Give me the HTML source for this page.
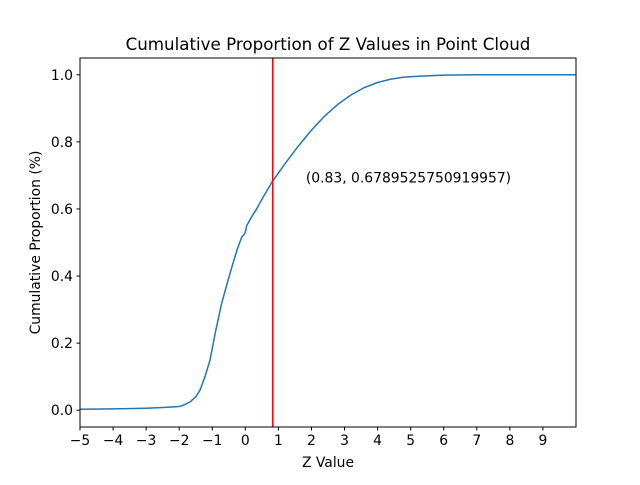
<!DOCTYPE html>
<html><head><meta charset="utf-8"><style>
body{margin:0;background:#fff;}
svg text{font-family:"DejaVu Sans","Liberation Sans",sans-serif;fill:#000;}
</style></head><body>
<svg id="chart" width="640" height="480" viewBox="0 0 640 480" xmlns="http://www.w3.org/2000/svg">
<rect width="640" height="480" fill="#fff"/>
<text x="328" y="50" font-size="16.7" text-anchor="middle">Cumulative Proportion of Z Values in Point Cloud</text>
<g id="plot"></g>
<rect x="80" y="58" width="496" height="369" fill="none" stroke="#000" stroke-width="1"/>
<text x="328" y="467" font-size="13.9" text-anchor="middle">Z Value</text>
<text transform="translate(40,242.5) rotate(-90)" font-size="13.9" text-anchor="middle">Cumulative Proportion (%)</text>
</svg>
<script>
const xs=[-5,-4,-3,-2.5,-2,-1.85,-1.67,-1.5,-1.37,-1.22,-1.07,-0.9,-0.72,-0.55,-0.41,-0.25,-0.11,-0.02,0.01,0.04,0.2,0.34,0.55,0.8,1.2,1.6,2,2.4,2.8,3.2,3.6,4,4.4,4.8,5.3,6,7,10];
const ys=[0.003,0.004,0.006,0.008,0.011,0.016,0.025,0.04,0.06,0.1,0.149,0.235,0.317,0.378,0.426,0.478,0.516,0.526,0.535,0.55,0.578,0.60,0.637,0.679,0.735,0.787,0.835,0.877,0.912,0.94,0.962,0.977,0.987,0.993,0.996,0.999,1.0,1.0];
const xTicks=[-5,-4,-3,-2,-1,0,1,2,3,4,5,6,7,8,9];
const yTicks=[0,0.2,0.4,0.6,0.8,1.0];
const markerX=0.83;
const markerY=0.6789525750919957;
const annotation="(0.83, 0.6789525750919957)";
const X0=80,X1=576,Y0=427,Y1=58,xmin=-5,xmax=10,ymin=-0.05,ymax=1.05;
function sx(v){return X0+(v-xmin)/(xmax-xmin)*(X1-X0);}
function sy(v){return Y0-(v-ymin)/(ymax-ymin)*(Y0-Y1);}
const NS="http://www.w3.org/2000/svg";
const g=document.getElementById('plot');
function mk(t,a,p){const e=document.createElementNS(NS,t);for(const k in a)e.setAttribute(k,a[k]);(p||g).appendChild(e);return e;}
xTicks.forEach(v=>{
  const l=mk('line',{x1:sx(v),x2:sx(v),y1:427,y2:430.5,stroke:'#000'});
  
  
  const t=mk('text',{x:sx(v),y:445,'font-size':13.9,'text-anchor':'middle'});
  t.textContent=String(v).replace('-','\u2212');
  
  
});
yTicks.forEach(v=>{
  const l=mk('line',{x1:76.5,x2:80,y1:sy(v),y2:sy(v),stroke:'#000'});
  
  
  const t=mk('text',{x:73,y:sy(v)+5,'font-size':13.9,'text-anchor':'end'});
  t.textContent=v.toFixed(1);
  
  
});
const p=mk('polyline',{points:xs.map((x,i)=>sx(x)+','+sy(ys[i])).join(' '),fill:'none',stroke:'#1f77b4','stroke-width':1.5,'stroke-linejoin':'round'});


const r=mk('line',{x1:sx(markerX),x2:sx(markerX),y1:58,y2:427,stroke:'#ff0000','stroke-width':1.5});


const a=mk('text',{x:sx(markerX+1),y:sy(markerY),'font-size':13.9});
a.textContent=annotation;


</script>
</body></html>
